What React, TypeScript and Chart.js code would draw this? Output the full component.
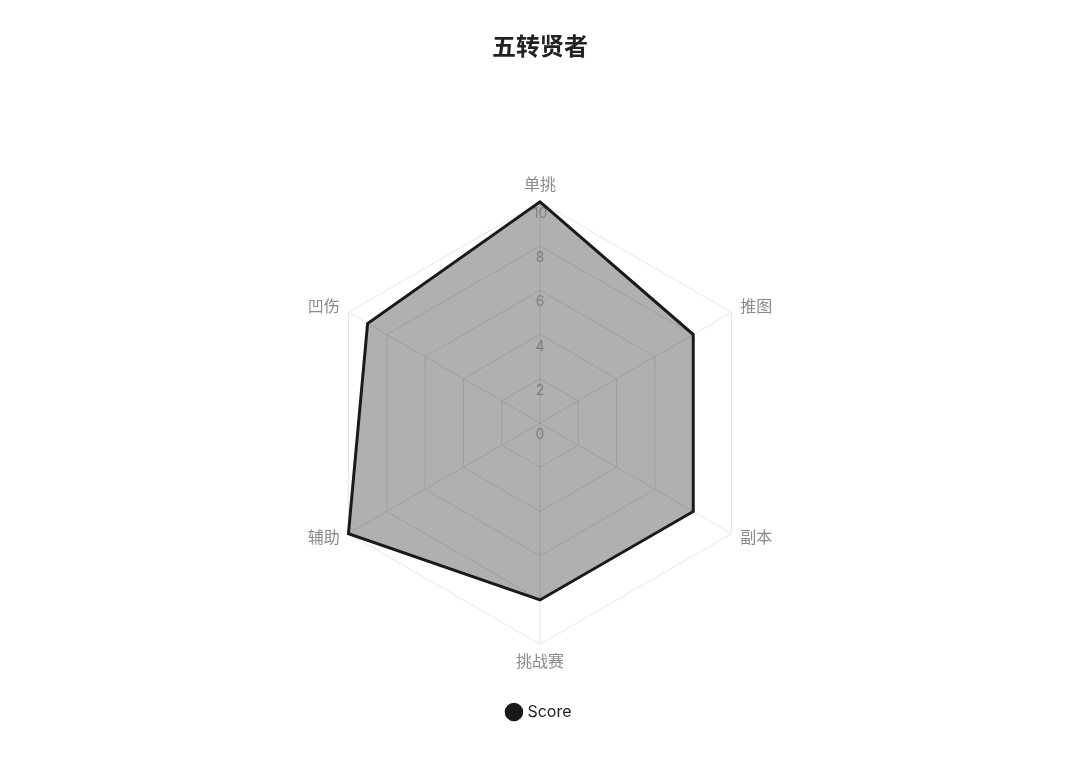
import { useEffect, useRef } from "react";
import { Chart, registerables } from "chart.js";

Chart.register(...registerables);

const categories = ["单挑", "推图", "副本", "挑战赛", "辅助", "凹伤"];
const scores = [10, 8, 8, 8, 10, 9];
const tickValues = [0, 2, 4, 6, 8, 10];

const FONT = "Inter, 'Noto Sans CJK SC', 'Noto Sans', sans-serif";

// tick labels sit a little below their ring, and under the filled area
const tickLabelPlugin = {
  id: "tickLabels",
  beforeDatasetsDraw(chart: any) {
    const scale = chart.scales.r;
    const ctx = chart.ctx;
    ctx.save();
    ctx.font = `14px ${FONT}`;
    ctx.fillStyle = "#b8b8b8";
    ctx.textAlign = "center";
    ctx.textBaseline = "middle";
    tickValues.forEach((v) => {
      const d = scale.getDistanceFromCenterForValue(v);
      ctx.fillText(String(v), scale.xCenter, scale.yCenter - d + 12);
    });
    ctx.restore();
  },
};

// category labels: side ones centred on the vertex line, top/bottom ones just outside
const pointLabelPlugin = {
  id: "pointLabels",
  afterDraw(chart: any) {
    const scale = chart.scales.r;
    const ctx = chart.ctx;
    ctx.save();
    ctx.font = `16px ${FONT}`;
    ctx.fillStyle = "#8a8a8a";
    categories.forEach((label, i) => {
      const p = scale.getPointPosition(i, scale.drawingArea + 10);
      const dx = p.x - scale.xCenter;
      const dy = p.y - scale.yCenter;
      ctx.textAlign = Math.abs(dx) < 1 ? "center" : dx > 0 ? "left" : "right";
      ctx.textBaseline = Math.abs(dx) < 1 ? (dy < 0 ? "bottom" : "top") : "middle";
      ctx.fillText(label, p.x, p.y + (dy < 0 && Math.abs(dx) < 1 ? 1 : 0));
    });
    ctx.restore();
  },
};

export default function App() {
  const canvasRef = useRef<HTMLCanvasElement>(null);

  useEffect(() => {
    document.body.style.margin = "0";
    const canvas = canvasRef.current;
    if (!canvas) return;
    const chart = new Chart(canvas, {
      type: "radar",
      data: {
        labels: categories,
        datasets: [
          {
            label: "Score",
            data: scores,
            backgroundColor: "rgba(0,0,0,0.31)",
            borderColor: "#1a1a1a",
            borderWidth: 3,
            pointRadius: 0,
            pointHoverRadius: 0,
            pointBackgroundColor: "#1a1a1a",
            pointBorderColor: "#1a1a1a",
            fill: true,
          },
        ],
      },
      options: {
        animation: false,
        responsive: true,
        maintainAspectRatio: false,
        layout: { padding: { top: 33, bottom: 49, left: 20, right: 20 } },
        plugins: {
          title: {
            display: true,
            text: "五转贤者",
            color: "#222",
            font: { family: FONT, size: 24, weight: "bold" },
            padding: { top: 0, bottom: 112 },
          },
          legend: {
            position: "bottom",
            labels: {
              usePointStyle: true,
              pointStyle: "circle",
              boxWidth: 11,
              boxHeight: 11,
              color: "#222",
              font: { family: FONT, size: 16 },
              padding: 30,
            },
          },
          tooltip: { enabled: false },
        },
        scales: {
          r: {
            min: 0,
            max: 10,
            ticks: { stepSize: 2, display: false },
            grid: { color: "#e6e6e6", lineWidth: 1 },
            angleLines: { color: "#e6e6e6", lineWidth: 1 },
            pointLabels: {
              // kept for the layout fit, painted by pointLabelPlugin
              color: "rgba(0,0,0,0)",
              font: { family: FONT, size: 15 },
              padding: 10,
            },
          },
        },
      },
      plugins: [tickLabelPlugin, pointLabelPlugin],
    });
    return () => chart.destroy();
  }, []);

  return (
    <div style={{ width: 1080, height: 779, position: "relative" }}>
      <canvas ref={canvasRef} />
    </div>
  );
}
